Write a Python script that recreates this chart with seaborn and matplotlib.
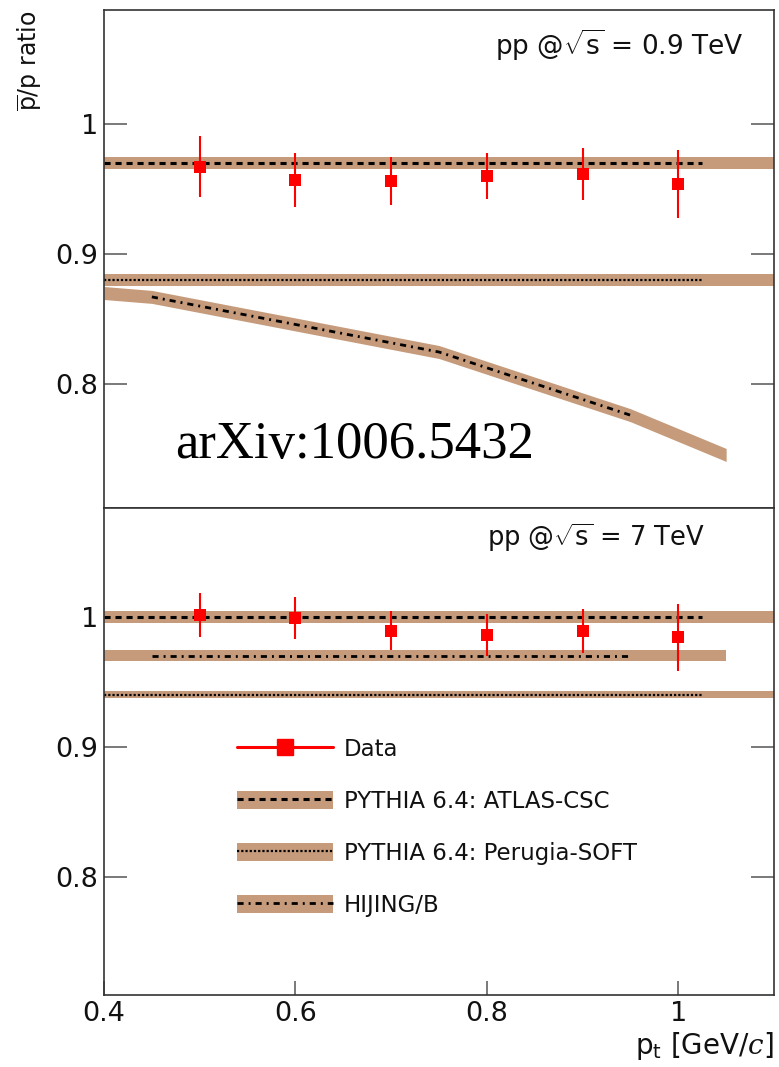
import matplotlib
matplotlib.use("Agg")
import matplotlib.pyplot as plt
from matplotlib.lines import Line2D
from matplotlib.patches import Patch
from matplotlib.legend_handler import HandlerTuple
import seaborn as sns

# ---- measured anti-proton / proton ratios ----
pt_data = [0.5, 0.6, 0.7, 0.8, 0.9, 1.0]
ratio_09 = [0.967, 0.957, 0.956, 0.960, 0.9615, 0.954]
err_09 = [0.0235, 0.021, 0.0185, 0.0175, 0.020, 0.026]
ratio_7 = [1.001, 0.999, 0.989, 0.986, 0.989, 0.984]
err_7 = [0.017, 0.016, 0.015, 0.016, 0.017, 0.026]

# ---- model predictions (band range and central-line range) ----
flat_band_pt = [0.4, 1.1]
flat_line_pt = [0.4, 1.025]

atlas_09 = 0.970
atlas_09_hw = 0.0047
perugia_09 = 0.880
perugia_09_hw = 0.0049

hijing_09_pt = [0.4, 0.45, 0.75, 0.95, 1.05]
hijing_09 = [0.870, 0.867, 0.8246, 0.776, 0.7454]
hijing_09_hw = 0.005
hijing_09_line_pt = [0.45, 0.75, 0.95]
hijing_09_line = [0.867, 0.8246, 0.776]

atlas_7 = 0.9995
atlas_7_hw = 0.0045
perugia_7 = 0.940
perugia_7_hw = 0.0025
hijing_7 = 0.970
hijing_7_hw = 0.0042
hijing_7_band_pt = [0.4, 1.05]
hijing_7_line_pt = [0.45, 0.95]

labels = ["Data", "PYTHIA 6.4: ATLAS-CSC", "PYTHIA 6.4: Perugia-SOFT", "HIJING/B"]
y_ticks = [0.8, 0.9, 1.0]
y_tick_labels = ["0.8", "0.9", "1"]
x_ticks = [0.4, 0.6, 0.8, 1.0]
x_tick_labels = ["0.4", "0.6", "0.8", "1"]

sns.set_theme(style="ticks")
plt.rcParams["font.family"] = ["DejaVu Sans"]
plt.rcParams["mathtext.fontset"] = "custom"
plt.rcParams["mathtext.rm"] = "DejaVu Sans"
plt.rcParams["mathtext.it"] = "DejaVu Serif:italic"

BAND = "#c59b7b"
FRAME = "#333333"

ls_atlas = (0, (2.0, 1.6))
ls_perugia = (0, (1.0, 0.9))
ls_hijing = (0, (2.2, 1.8, 0.7, 1.8))
lw_atlas, lw_perugia, lw_hijing = 2.2, 1.6, 2.0

fig = plt.figure(figsize=(7.79, 10.67), dpi=100)
ax_top = fig.add_axes([0.1335, 0.5239, 0.8601, 0.4667])
ax_bot = fig.add_axes([0.1335, 0.06748, 0.8601, 0.4564])


def band(ax, xs, center, hw):
    if not hasattr(center, "__len__"):
        center = [center] * len(xs)
    ax.fill_between(xs, [c - hw for c in center], [c + hw for c in center],
                    color=BAND, lw=0, zorder=1)


def model_line(ax, xs, ys, ls, lw):
    if not hasattr(ys, "__len__"):
        ys = [ys] * len(xs)
    sns.lineplot(x=xs, y=ys, ax=ax, color="black", linestyle=ls, lw=lw,
                 sort=False, estimator=None, zorder=2)


def data_points(ax, ys, errs):
    ax.errorbar(pt_data, ys, yerr=errs, fmt="none", ecolor="red",
                elinewidth=1.5, capsize=0, zorder=3)
    sns.scatterplot(x=pt_data, y=ys, ax=ax, color="red", marker="s",
                    s=70, linewidth=0, zorder=4)


# 0.9 TeV panel
band(ax_top, flat_band_pt, atlas_09, atlas_09_hw)
band(ax_top, flat_band_pt, perugia_09, perugia_09_hw)
band(ax_top, hijing_09_pt, hijing_09, hijing_09_hw)
model_line(ax_top, flat_line_pt, atlas_09, ls_atlas, lw_atlas)
model_line(ax_top, flat_line_pt, perugia_09, ls_perugia, lw_perugia)
model_line(ax_top, hijing_09_line_pt, hijing_09_line, ls_hijing, lw_hijing)
data_points(ax_top, ratio_09, err_09)

# 7 TeV panel
band(ax_bot, flat_band_pt, atlas_7, atlas_7_hw)
band(ax_bot, hijing_7_band_pt, hijing_7, hijing_7_hw)
band(ax_bot, flat_band_pt, perugia_7, perugia_7_hw)
model_line(ax_bot, flat_line_pt, atlas_7, ls_atlas, lw_atlas)
model_line(ax_bot, hijing_7_line_pt, hijing_7, ls_hijing, lw_hijing)
model_line(ax_bot, flat_line_pt, perugia_7, ls_perugia, lw_perugia)
data_points(ax_bot, ratio_7, err_7)

for ax, ylim in ((ax_top, (0.7046, 1.0877)), (ax_bot, (0.709, 1.0836))):
    ax.set_xlim(0.4, 1.1)
    ax.set_ylim(*ylim)
    ax.set_axisbelow(True)
    ax.set_yticks(y_ticks)
    ax.set_yticklabels(y_tick_labels)
    ax.set_xticks(x_ticks)
    ax.set_xticklabels(x_tick_labels)
    ax.tick_params(axis="y", direction="in", length=16.5, width=1.1,
                   color="#555555", left=True, right=True, labelsize=19.5,
                   pad=4, labelcolor="#111111")
    ax.tick_params(axis="x", direction="in", length=10, width=1.1,
                   color="#555555", top=False, labelsize=19.5, pad=4,
                   labelcolor="#111111")
    ax.minorticks_off()
    for sp in ax.spines.values():
        sp.set_color(FRAME)
        sp.set_linewidth(1.2)
    ax.set_xlabel("")
    ax.set_ylabel("")

ax_top.tick_params(axis="x", bottom=False, labelbottom=False)

ax_top.set_ylabel(r"$\overline{\mathrm{p}}$/p ratio", loc="top", fontsize=17,
                  color="#111111")
ax_top.yaxis.set_label_coords(-0.089, 1.0)

ax_bot.set_xlabel(r"p$_{\mathrm{t}}$ [GeV/$c$]", loc="right", fontsize=20,
                  color="#111111")
ax_bot.xaxis.set_label_coords(1.0, -0.072)

ax_top.text(0.954, 0.93, r"pp @$\sqrt{\mathrm{s}}$ = 0.9 TeV",
            transform=ax_top.transAxes, ha="right", va="center",
            fontsize=19, color="#111111")
ax_bot.text(0.897, 0.938, r"pp @$\sqrt{\mathrm{s}}$ = 7 TeV",
            transform=ax_bot.transAxes, ha="right", va="center",
            fontsize=18.5, color="#111111")

ax_top.text(0.106, 0.100, "arXiv:1006.5432", transform=ax_top.transAxes,
            ha="left", va="baseline", fontsize=38, family="Liberation Serif",
            color="black")

# legend
h_data = Line2D([], [], color="red", lw=2.2, marker="s", markersize=11)


def band_handle(ls, lw):
    return (Patch(facecolor=BAND, edgecolor="none"),
            Line2D([], [], color="black", linestyle=ls, lw=lw))


handles = [h_data,
           band_handle(ls_atlas, lw_atlas),
           band_handle(ls_perugia, lw_perugia),
           band_handle(ls_hijing, lw_hijing)]
leg = ax_bot.legend(handles, labels, loc="upper left",
                    bbox_to_anchor=(0.1985, 0.5285), frameon=False,
                    fontsize=16.5, handlelength=4.2, handleheight=0.85,
                    handletextpad=0.45, labelspacing=1.27, borderpad=0,
                    borderaxespad=0, numpoints=1,
                    handler_map={tuple: HandlerTuple(ndivide=1, pad=0)})
for t in leg.get_texts():
    t.set_color("#111111")

fig.savefig("out.png", dpi=100)
